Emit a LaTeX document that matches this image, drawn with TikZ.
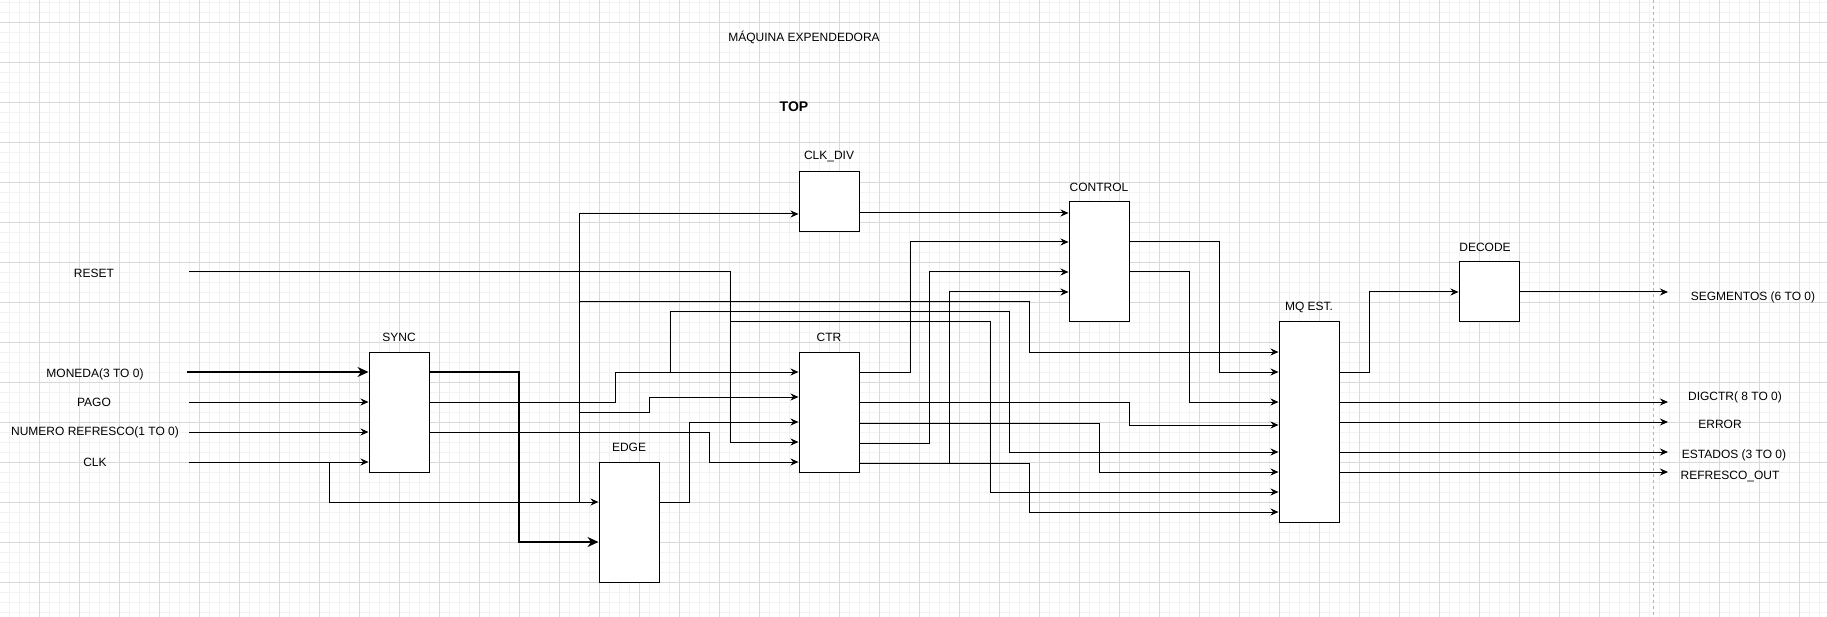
\documentclass[tikz,border=0pt]{standalone}
\usepackage{fontspec}
\setmainfont{Liberation Sans}
\usetikzlibrary{arrows.meta}
\begin{document}
\begin{tikzpicture}[x=1pt,y=-1pt,
  gridminor/.style={draw=black!5,line width=0.8pt},
  gridmajor/.style={draw=black!15,line width=0.9pt},
  box/.style={draw=black,fill=white,line width=1pt,inner sep=0pt,minimum width=60pt},
  lbl/.style={inner sep=0pt,font=\fontsize{12}{14}\selectfont},
  sig/.style={line width=1pt,-{Stealth[length=8pt,width=7pt]}},
  wire/.style={line width=1pt},
  bus/.style={line width=2.2pt,-{Stealth[length=11pt,width=10pt]}}
]
% background and grid
\fill[white] (0,0) rectangle (1827,617);
\useasboundingbox (0,0) rectangle (1827,617);
\foreach \x in {9,19,...,1819} \draw[gridminor] (\x,0) -- (\x,617);
\foreach \y in {2,12,...,612} \draw[gridminor] (0,\y) -- (1827,\y);
\foreach \x in {39,79,...,1819} \draw[gridmajor] (\x,0) -- (\x,617);
\foreach \y in {22,62,...,602} \draw[gridmajor] (0,\y) -- (1827,\y);
\draw[black!30,line width=0.8pt,dash pattern=on 3pt off 3pt] (1653,0) -- (1653,617);

% titles
\node[lbl] (title) at (804,37) {MÁQUINA EXPENDEDORA};
\node[inner sep=0pt,font=\fontsize{14}{16}\selectfont\bfseries] (top) at (794,107) {TOP};

% boxes
\node[box,minimum height=120pt] (sync) at (399,412) {};
\node[box,minimum height=120pt] (edge) at (629,522) {};
\node[box,minimum height=60pt] (clkdiv) at (829,202) {};
\node[box,minimum height=120pt] (ctr) at (829,412) {};
\node[box,minimum height=120pt] (control) at (1099,262) {};
\node[box,minimum height=200pt] (mq) at (1309,422) {};
\node[box,minimum height=60pt] (decode) at (1489,292) {};

% box labels
\node[lbl] (lsync) at (399,337) {SYNC};
\node[lbl] (ledge) at (629,447) {EDGE};
\node[lbl] (lclkdiv) at (829,157) {CLK\_DIV};
\node[lbl] (lctr) at (829,337) {CTR};
\node[lbl] (lcontrol) at (1099,187) {CONTROL};
\node[lbl] (lmq) at (1309,307) {MQ EST.};
\node[lbl] (ldecode) at (1485,247) {DECODE};

% input labels
\node[lbl] (reset) at (94,273) {RESET};
\node[lbl] (moneda) at (95,374) {MONEDA(3 TO 0)};
\node[lbl] (pago) at (94,402) {PAGO};
\node[lbl] (numero) at (95,432) {NUMERO REFRESCO(1 TO 0)};
\node[lbl] (clk) at (95,462) {CLK};

% output labels
\node[lbl] (segm) at (1753,297) {SEGMENTOS (6 TO 0)};
\node[lbl] (digctr) at (1735,397) {DIGCTR( 8 TO 0)};
\node[lbl] (error) at (1720,424) {ERROR};
\node[lbl] (estados) at (1734,455) {ESTADOS (3 TO 0)};
\node[lbl] (refout) at (1730,477) {REFRESCO\_OUT};

% free-end coordinates
\coordinate (inreset) at (189,272);
\coordinate (inmoneda) at (187,372);
\coordinate (inpago) at (189,402);
\coordinate (innumero) at (189,432);
\coordinate (inclk) at (189,462);
\coordinate (oseg) at (1668,292);
\coordinate (odig) at (1668,402);
\coordinate (oerr) at (1668,422);
\coordinate (oest) at (1668,452);
\coordinate (oref) at (1668,472);

% inputs to SYNC
\draw[bus] (inmoneda) -- (sync.west |- 0,372);
\draw[sig] (inpago) -- (sync.west |- 0,402);
\draw[sig] (innumero) -- (sync.west |- 0,432);
\draw[sig] (inclk) -- (sync.west |- 0,462);

% clock distribution
\draw[sig] (329,462) -- (329,502) -- (edge.west |- 0,502);
\draw[sig] (579,502) -- (579,214) -- (clkdiv.west |- 0,214);
\draw[sig] (579,302) -- (1029,302) -- (1029,352) -- (mq.west |- 0,352);
\draw[sig] (579,412) -- (649,412) -- (649,397) -- (ctr.west |- 0,397);

% SYNC outputs
\draw[bus] (sync.east |- 0,372) -- (519,372) -- (519,542) -- (edge.west |- 0,542);
\draw[sig] (sync.east |- 0,402) -- (615,402) -- (615,372) -- (ctr.west |- 0,372);
\draw[sig] (670,372) -- (670,312) -- (1009,312) -- (1009,452) -- (mq.west |- 0,452);
\draw[sig] (sync.east |- 0,432) -- (709,432) -- (709,462) -- (ctr.west |- 0,462);

% EDGE output
\draw[sig] (edge.east |- 0,502) -- (689,502) -- (689,422) -- (ctr.west |- 0,422);

% RESET
\draw[sig] (inreset) -- (730,272) -- (730,442) -- (ctr.west |- 0,442);
\draw[sig] (730,322) -- (990,322) -- (990,492) -- (mq.west |- 0,492);

% CLK_DIV output
\draw[sig] (clkdiv.east |- 0,213) -- (control.west |- 0,213);

% CTR outputs
\draw[sig] (ctr.east |- 0,372) -- (910,372) -- (910,242) -- (control.west |- 0,242);
\draw[sig] (ctr.east |- 0,402) -- (1129,402) -- (1129,425) -- (mq.west |- 0,425);
\draw[sig] (ctr.east |- 0,423) -- (1099,423) -- (1099,472) -- (mq.west |- 0,472);
\draw[sig] (ctr.east |- 0,443) -- (929,443) -- (929,272) -- (control.west |- 0,272);
\draw[sig] (ctr.east |- 0,463) -- (1029,463) -- (1029,512) -- (mq.west |- 0,512);
\draw[sig] (949,463) -- (949,292) -- (control.west |- 0,292);

% CONTROL outputs
\draw[sig] (control.east |- 0,242) -- (1219,242) -- (1219,372) -- (mq.west |- 0,372);
\draw[sig] (control.east |- 0,272) -- (1189,272) -- (1189,402) -- (mq.west |- 0,402);

% MQ EST. outputs
\draw[sig] (mq.east |- 0,372) -- (1369,372) -- (1369,292) -- (decode.west |- 0,292);
\draw[sig] (decode.east |- 0,292) -- (oseg);
\draw[sig] (mq.east |- 0,402) -- (odig);
\draw[sig] (mq.east |- 0,422) -- (oerr);
\draw[sig] (mq.east |- 0,452) -- (oest);
\draw[sig] (mq.east |- 0,472) -- (oref);
\end{tikzpicture}
\end{document}
